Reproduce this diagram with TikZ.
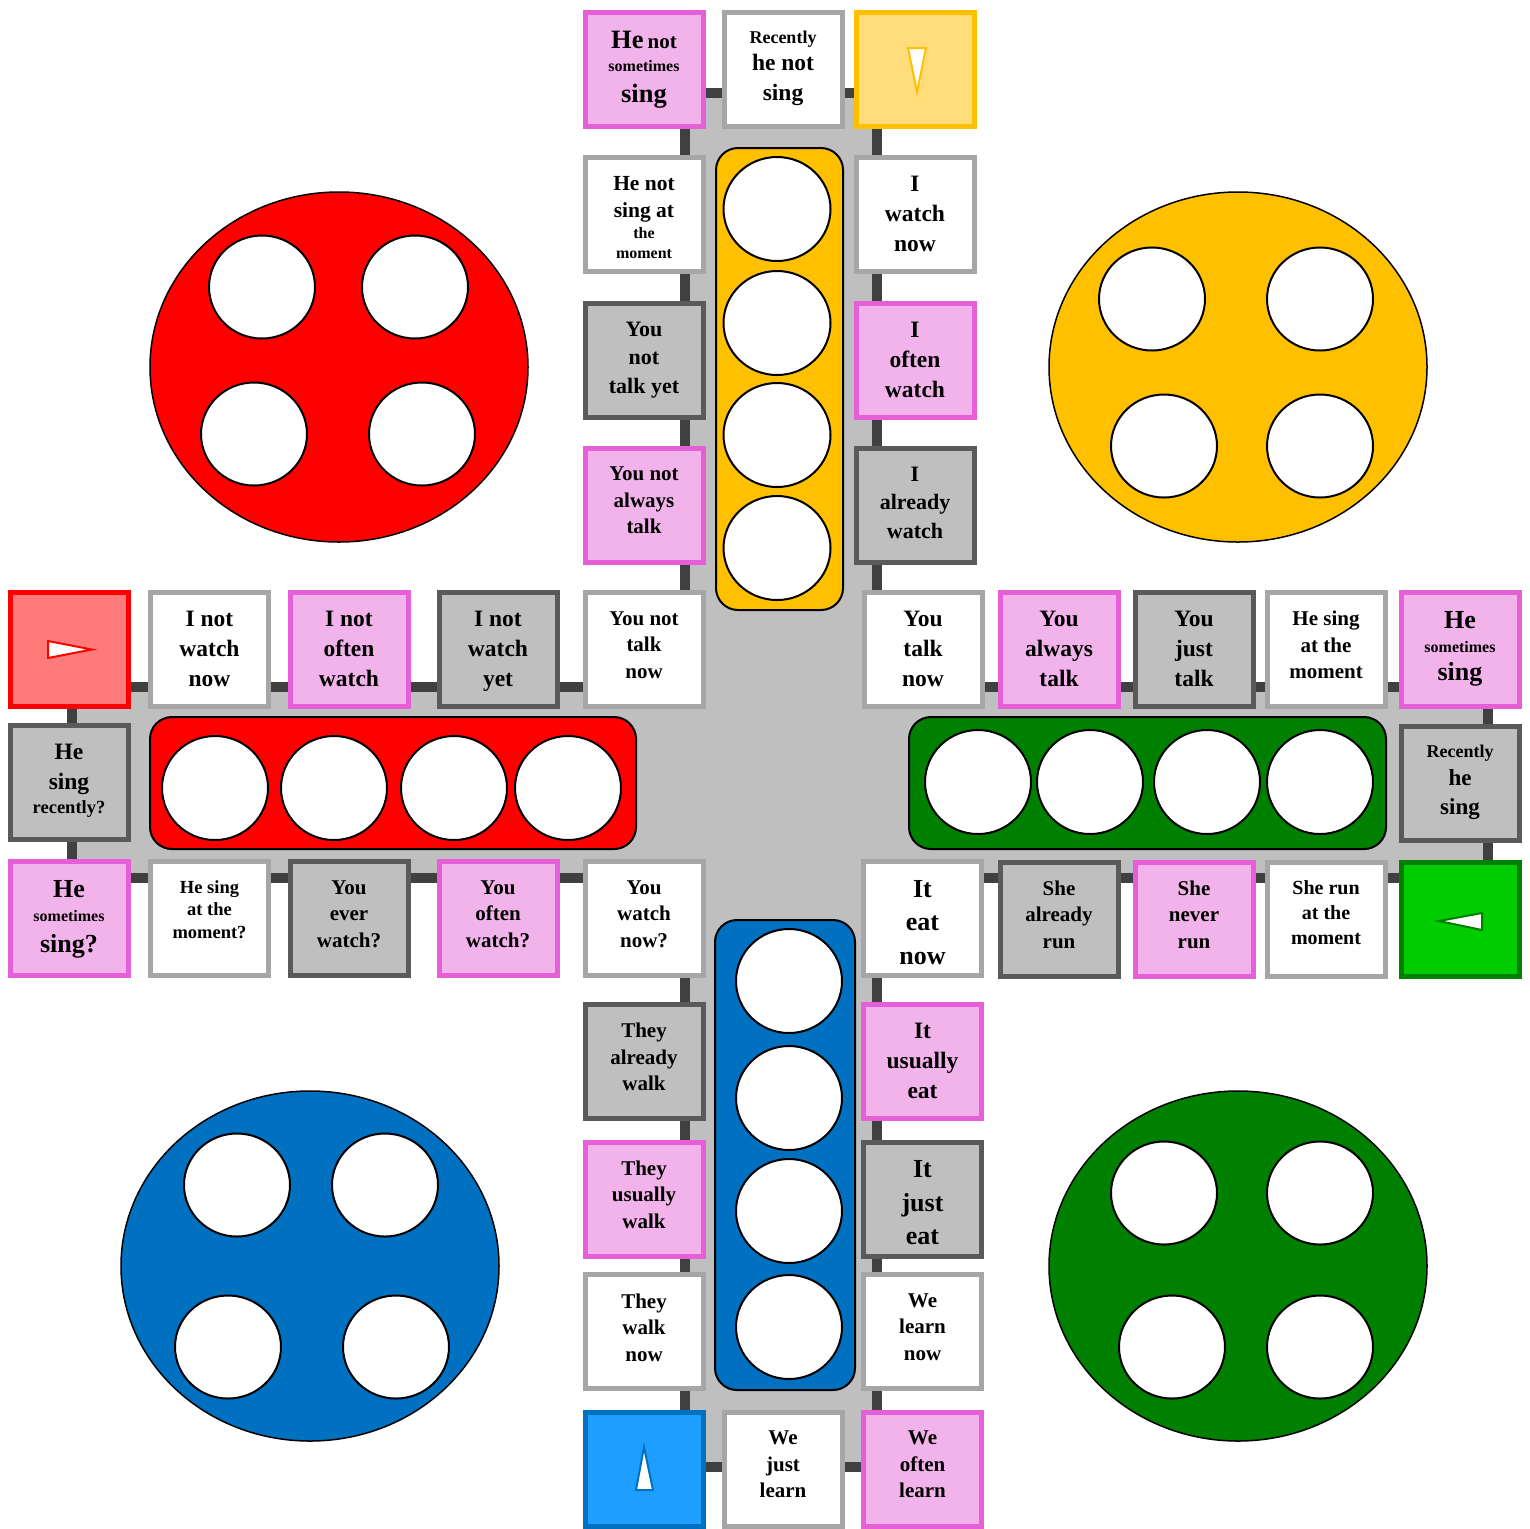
\documentclass[tikz,border=0pt]{standalone}
\usepackage{fontspec}
\setmainfont{Liberation Serif}

\definecolor{pinkfill}{HTML}{F2B3EB}
\definecolor{pinkline}{HTML}{E65FD9}
\definecolor{greyfill}{HTML}{BFBFBF}
\definecolor{greyline}{HTML}{5A5A5A}
\definecolor{plainline}{HTML}{A6A6A6}
\definecolor{trackline}{HTML}{404040}
\definecolor{ludored}{HTML}{FF0000}
\definecolor{ludoyellow}{HTML}{FFC000}
\definecolor{ludogreen}{HTML}{008000}
\definecolor{ludoblue}{HTML}{0070C0}
\definecolor{startred}{HTML}{FF7A7A}
\definecolor{startyellow}{HTML}{FFDD7A}
\definecolor{startgreen}{HTML}{00CC00}
\definecolor{startblue}{HTML}{1E9FFF}

\newcommand{\cellfont}[2]{\bfseries\fontsize{#1}{#2}\selectfont}
\newcommand{\wsize}[1]{\fontsize{#1}{#1}\selectfont}
% square of the track, text hung from its top edge
\newcommand{\boardcell}[5]{%
  \node[#1] (#2) at (#3) {};
  \node[#4] (#2t) at ([yshift=-10.5pt]#2.north) {#5};%
}

\begin{document}
\begin{tikzpicture}[x=0.5pt,y=-0.5pt,
  cell/.style={draw,line width=2.5pt,minimum width=59pt,minimum height=57pt,inner sep=0pt},
  plain/.style={cell,fill=white,draw=plainline},
  often/.style={cell,fill=pinkfill,draw=pinkline},
  done/.style={cell,fill=greyfill,draw=greyline},
  startsq/.style 2 args={cell,fill=#1,draw=#2},
  say/.style={anchor=north,inner sep=0pt,align=center,font=\cellfont{10.5}{13.25}},
  say tiny/.style={say,font=\cellfont{9.25}{11.25}},
  say small/.style={say,font=\cellfont{10}{12.4}},
  say mid/.style={say,font=\cellfont{11}{14.25}},
  say wide/.style={say,font=\cellfont{11.75}{15}},
  say big/.style={say,font=\cellfont{13}{16.75}},
  hole/.style={draw,fill=white,line width=1pt},
  arrowtip/.style={fill=white,line width=1pt}
]
  \useasboundingbox (0,0) rectangle (1530,1528);

  % the track
  \draw[draw=trackline,fill=greyfill,line width=5pt]
    (685,93) -- (877,93) -- (877,687) -- (1488,687) -- (1488,878) -- (877,878)
    -- (877,1467) -- (685,1467) -- (685,878) -- (72,878) -- (72,687) -- (685,687) -- cycle;

  % yards
  \draw[fill=ludored,line width=0.75pt] (339,367) ellipse [x radius=189,y radius=175];
  \draw[fill=ludoyellow,line width=0.75pt] (1238,367) ellipse [x radius=189,y radius=175];
  \draw[fill=ludoblue,line width=0.75pt] (310,1266) ellipse [x radius=189,y radius=175];
  \draw[fill=ludogreen,line width=0.75pt] (1238,1266) ellipse [x radius=189,y radius=175];
  \foreach \x/\y in {262/287,415/287,254/434,422/434,
                     1152/299,1320/299,1164/446,1320/446,
                     237/1185,385/1185,228/1347,396/1347,
                     1164/1193,1320/1193,1172/1347,1320/1347}
    \draw[hole] (\x,\y) ellipse [x radius=53,y radius=51.5];

  % home columns
  \draw[fill=ludoyellow,line width=1pt,rounded corners=11pt] (716,148) rectangle (843,610);
  \draw[fill=ludored,line width=1pt,rounded corners=11pt] (150,717) rectangle (636,849);
  \draw[fill=ludogreen,line width=1pt,rounded corners=11pt] (909,717) rectangle (1386,849);
  \draw[fill=ludoblue,line width=1pt,rounded corners=11pt] (715,920) rectangle (855,1390);
  \foreach \y in {209,323,435,548} \draw[hole] (777,\y) ellipse [x radius=53.5,y radius=52];
  \foreach \x in {215,334,454,568} \draw[hole] (\x,788) ellipse [x radius=53,y radius=52];
  \foreach \x in {978,1090,1207,1320} \draw[hole] (\x,782) ellipse [x radius=53,y radius=52];
  \foreach \y in {981,1098,1211,1327} \draw[hole] (789,\y) ellipse [x radius=53,y radius=52];

  % left arm, upper row
  \node[startsq={startred}{ludored}] (rstart) at (69,649.5) {};
  \boardcell{plain}{c1}{209.5,649.5}{say wide}{I not\\watch\\now}
  \boardcell{often}{c2}{349,649.5}{say wide}{I not\\often\\watch}
  \boardcell{done}{c3}{498,649.5}{say wide}{I not\\watch\\yet}
  \boardcell{plain}{c4}{644,649.5}{say}{You not\\talk\\now}
  % top arm
  \boardcell{often}{c5}{644,505}{say}{You not\\always\\talk}
  \boardcell{done}{c6}{644,360}{say mid}{You\\not\\talk yet}
  \boardcell{plain}{c7}{644,214.5}{say,font=\cellfont{8}{10}}{{\wsize{10.75}He not}\\[3.5pt]{\wsize{10.75}sing at}\\[0.5pt]the\\moment}
  \boardcell{often}{c8}{644,69}{say,font=\cellfont{8}{11.75}}{{\wsize{13.25}He} {\wsize{10.5}not}\\sometimes\\[3.5pt]{\wsize{13.25}sing}}
  \boardcell{plain}{c9}{783,69}{say,font=\cellfont{11.75}{12.5}}{{\wsize{9}Recently}\\[1.2pt]he not\\[2.5pt]sing}
  \node[startsq={startyellow}{ludoyellow}] (ystart) at (915,69) {};
  \boardcell{plain}{c10}{915,214.5}{say wide}{I\\watch\\now}
  \boardcell{often}{c11}{915,360}{say wide}{I\\often\\watch}
  \boardcell{done}{c12}{915,505}{say mid}{I\\already\\watch}
  % right arm
  \boardcell{plain}{c13}{923,649.5}{say wide}{You\\talk\\now}
  \boardcell{often}{c14}{1059,649.5}{say wide}{You\\always\\talk}
  \boardcell{done}{c15}{1194,649.5}{say wide}{You\\just\\talk}
  \boardcell{plain}{c16}{1326,649.5}{say}{He sing\\at the\\moment}
  \boardcell{often}{c17}{1460,649.5}{say,font=\cellfont{8}{12}}{{\wsize{13}He}\\sometimes\\[2pt]{\wsize{13}sing}}
  \boardcell{done}{c18}{1460,783}{say,font=\cellfont{11.5}{14.25}}{{\wsize{9}Recently}\\he\\sing}
  \node[startsq={startgreen}{ludogreen}] (gstart) at (1460,919) {};
  \boardcell{plain}{c19}{1326,919}{say small}{She run\\at the\\moment}
  \boardcell{often}{c20}{1194,919}{say}{She\\never\\run}
  \boardcell{done}{c21}{1059,919}{say}{She\\already\\run}
  % bottom arm
  \boardcell{plain}{c22}{922.5,918.5}{say big}{It\\eat\\now}
  \boardcell{often}{c23}{922.5,1061.5}{say wide}{It\\usually\\eat}
  \boardcell{done}{c24}{922.5,1199}{say big}{It\\just\\eat}
  \boardcell{plain}{c25}{922.5,1331.5}{say}{We\\learn\\now}
  \boardcell{often}{c26}{922.5,1469}{say}{We\\often\\learn}
  \boardcell{plain}{c27}{783,1469}{say}{We\\just\\learn}
  \node[startsq={startblue}{ludoblue}] (bstart) at (644,1469) {};
  \boardcell{plain}{c28}{644,1331.5}{say}{They\\walk\\now}
  \boardcell{often}{c29}{644,1199}{say}{They\\usually\\walk}
  \boardcell{done}{c30}{644,1061.5}{say}{They\\already\\walk}
  % left arm, lower row
  \boardcell{plain}{c31}{644,918.5}{say}{You\\watch\\now?}
  \boardcell{often}{c32}{498,918.5}{say}{You\\often\\watch?}
  \boardcell{done}{c33}{349,918.5}{say}{You\\ever\\watch?}
  \boardcell{plain}{c34}{209.5,918.5}{say tiny}{He sing\\at the\\moment?}
  \boardcell{often}{c35}{69,918.5}{say,font=\cellfont{8}{12}}{{\wsize{13}He}\\sometimes\\[3.5pt]{\wsize{13}sing?}}
  \boardcell{done}{c36}{69,782.5}{say,font=\cellfont{11.75}{14.75}}{He\\sing\\[-2.5pt]{\wsize{9.25}recently?}}

  % start arrows
  \draw[ludored,arrowtip] (48,641) -- (92,649.5) -- (48,658) -- cycle;
  \draw[ludoyellow,arrowtip] (908,48) -- (926,48) -- (917,92) -- cycle;
  \draw[ludogreen,arrowtip] (1482,913) -- (1482,930) -- (1439,921) -- cycle;
  \draw[ludoblue,arrowtip] (644,1447) -- (653,1490) -- (636,1490) -- cycle;
\end{tikzpicture}
\end{document}
